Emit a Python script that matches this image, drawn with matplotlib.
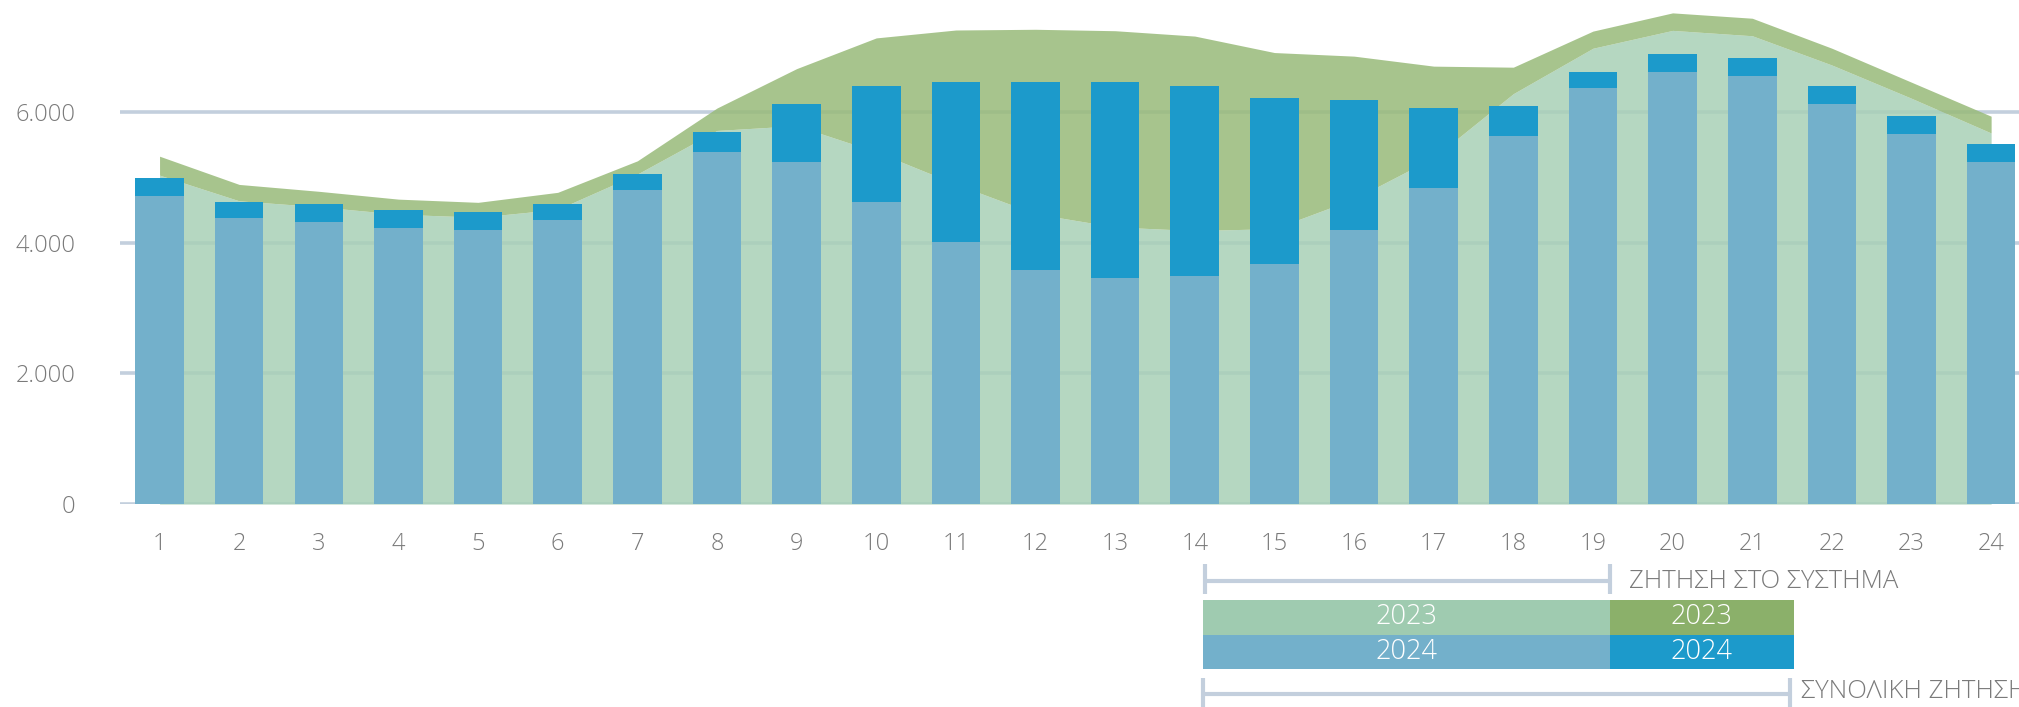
import matplotlib.pyplot as plt
from matplotlib.patches import Rectangle

# hourly demand (MW)
hours = list(range(1, 25))
system_2023 = [5033, 4640, 4550, 4435, 4390, 4510, 5050, 5717, 5790, 5390, 4896, 4442,
               4240, 4185, 4215, 4670, 5300, 6280, 6975, 7248, 7166, 6718, 6209, 5678]
total_2023 = [5323, 4891, 4786, 4666, 4617, 4770, 5252, 6060, 6663, 7133, 7254, 7265,
              7243, 7161, 6909, 6854, 6701, 6685, 7237, 7516, 7434, 6975, 6455, 5935]
system_2024 = [4710, 4376, 4311, 4223, 4190, 4344, 4803, 5383, 5230, 4617, 4004, 3578,
               3457, 3485, 3671, 4190, 4836, 5629, 6368, 6608, 6548, 6121, 5662, 5230]
total_2024 = [4989, 4617, 4590, 4497, 4464, 4590, 5049, 5689, 6121, 6395, 6455, 6455,
              6455, 6395, 6214, 6182, 6061, 6089, 6608, 6887, 6827, 6395, 5935, 5509]

y_ticks = [0, 2000, 4000, 6000]
y_tick_labels = ["0", "2.000", "4.000", "6.000"]
legend_years = ["2023", "2024"]
label_system = "ΖΗΤΗΣΗ ΣΤΟ ΣΥΣΤΗΜΑ"
label_total = "ΣΥΝΟΛΙΚΗ ΖΗΤΗΣΗ"

c_green_light = "#a8d0b7"
c_green_dark = "#98ba79"
c_blue_light = "#73b0cb"
c_blue_dark = "#1c9acb"
c_grid = "#c3cfdd"
c_text = "#7a7a7a"

plt.rcParams['font.family'] = ['Open Sans', 'DejaVu Sans']

fig = plt.figure(figsize=(20.19, 7.07), dpi=100)
ax = fig.add_axes([0.0593, 0.287, 0.9407, 0.713])

for t in y_ticks:
    ax.axhline(t, color=c_grid, lw=2.6, zorder=0)

ax.fill_between(hours, 0, system_2023, color=c_green_light, alpha=0.85, lw=0, zorder=1)
ax.fill_between(hours, system_2023, total_2023, color=c_green_dark, alpha=0.85, lw=0, zorder=1)

extra_2024 = [t - s for t, s in zip(total_2024, system_2024)]
ax.bar(hours, system_2024, width=0.61, color=c_blue_light, zorder=2)
ax.bar(hours, extra_2024, bottom=system_2024, width=0.61, color=c_blue_dark, zorder=2)

ax.set_xlim(0.5, 24.35)
ax.set_ylim(0, 7713)
ax.set_xticks(hours)
ax.set_xticklabels([str(h) for h in hours])
ax.set_yticks(y_ticks)
ax.set_yticklabels(y_tick_labels)
ax.tick_params(axis='both', length=0, labelsize=17, labelcolor=c_text)
ax.tick_params(axis='x', pad=20)
ax.tick_params(axis='y', pad=32)
for s in ax.spines.values():
    s.set_visible(False)
for lab in ax.get_xticklabels() + ax.get_yticklabels():
    lab.set_fontweight('light')

# legend drawn in pixel space
lg = fig.add_axes([0, 0, 1, 1], zorder=5)
lg.set_xlim(0, 2019)
lg.set_ylim(707, 0)
lg.axis('off')

lw_br = 3.0
# upper bracket
lg.plot([1205, 1610], [580.7, 580.7], color=c_grid, lw=lw_br, solid_capstyle='butt')
lg.plot([1205, 1205], [564, 594], color=c_grid, lw=lw_br, solid_capstyle='butt')
lg.plot([1610, 1610], [564, 594], color=c_grid, lw=lw_br, solid_capstyle='butt')
lg.text(1629, 581, label_system, fontsize=18.5, color=c_text, va='center', ha='left',
        fontweight='light')

rows = [(600, c_green_light, c_green_dark, "#9fcbb0", "#8bb06a"),
        (634.5, c_blue_light, c_blue_dark, c_blue_light, c_blue_dark)]
for (y0, _, _, c1, c2), year in zip(rows, legend_years):
    lg.add_patch(Rectangle((1203, y0), 1609.5 - 1203, 34.8, color=c1, lw=0))
    lg.add_patch(Rectangle((1609.5, y0), 1793.5 - 1609.5, 34.8, color=c2, lw=0))
    lg.text((1203 + 1609.5) / 2, y0 + 17.4, year, fontsize=19.5, color="white",
            ha='center', va='center', fontweight='light')
    lg.text((1609.5 + 1793.5) / 2, y0 + 17.4, year, fontsize=19.5, color="white",
            ha='center', va='center', fontweight='light')

# lower bracket
lg.plot([1203, 1790], [694, 694], color=c_grid, lw=lw_br, solid_capstyle='butt')
lg.plot([1203, 1203], [678, 707], color=c_grid, lw=lw_br, solid_capstyle='butt')
lg.plot([1790, 1790], [678, 707], color=c_grid, lw=lw_br, solid_capstyle='butt')
lg.text(1801, 692, label_total, fontsize=18.5, color=c_text, va='center', ha='left',
        fontweight='light')

fig.savefig("out.png", dpi=100)
